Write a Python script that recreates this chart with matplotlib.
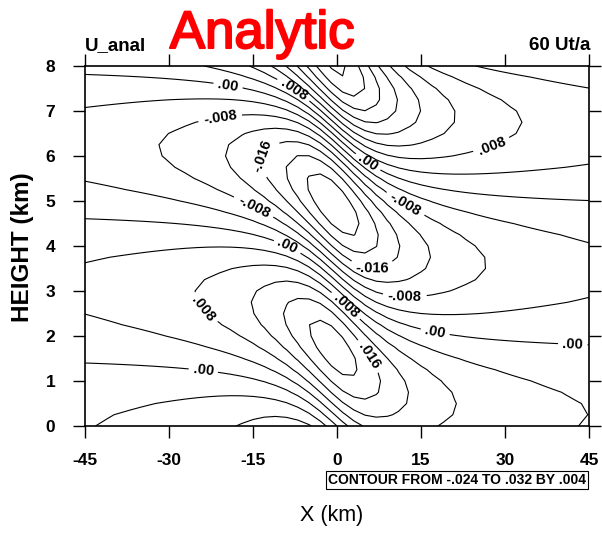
import numpy as np
import matplotlib
matplotlib.use("Agg")
import matplotlib.pyplot as plt
import matplotlib.patheffects as pe

# Model grid (km)
x_km = np.arange(-45.0, 45.01, 2.0)
z_km = np.arange(0.0, 8.001, 0.25)

# Witch-of-Agnesi mountain-wave parameters
half_width = 9.0         # a (km)
vert_wavenumber = 0.98   # l (1/km)
amplitude = 0.02         # U*h*l
scale_height = 8.0       # density scale height (km)

levels = np.round(np.arange(-0.024, 0.0321, 0.004), 4)
label_levels = [-0.016, -0.008, 0.0, 0.008, 0.016]

x_ticks = [-45, -30, -15, 0, 15, 30, 45]
z_ticks = [0, 1, 2, 3, 4, 5, 6, 7, 8]

# label anchor points (x km, z km)
label_spots = [(-19.5, 7.53), (-7.9, 7.44), (-20.9, 6.87), (-13.4, 6.0),
               (-15.0, 4.84), (-8.9, 3.98), (-24.1, 2.58), (-23.9, 1.2),
               (5.4, 5.84), (27.7, 6.2), (12.1, 4.91), (6.25, 3.47),
               (12.1, 2.84), (1.4, 2.65), (17.5, 2.07), (5.4, 1.53),
               (42.1, 1.8)]

X, Z = np.meshgrid(x_km, z_km)
theta = vert_wavenumber * Z
U = (amplitude * np.exp(Z / (2 * scale_height)) * half_width
     * (half_width * np.sin(theta) + X * np.cos(theta)) / (X**2 + half_width**2))

W, H = 602, 533
fig = plt.figure(figsize=(W / 100, H / 100), dpi=100)
ax = fig.add_axes([85 / W, 1 - 426 / H, (589 - 85) / W, (426 - 66) / H])

plain_levels = [lv for lv in levels if not any(abs(lv - t) < 1e-9 for t in label_levels)]
ax.contour(X, Z, U, levels=plain_levels, colors="black", linewidths=0.8,
           negative_linestyles="solid")
cs = ax.contour(X, Z, U, levels=label_levels, colors="black", linewidths=0.8,
                negative_linestyles="solid")


def fmt(v):
    if abs(v) < 1e-9:
        return ".00"
    s = f"{v:.3f}".rstrip("0")
    return s.replace("0.", ".", 1)


ax.clabel(cs, fmt=fmt, inline=True, inline_spacing=3, fontsize=10.5,
          manual=label_spots)
for t in cs.labelTexts:
    t.set_fontweight("bold")
    t.set_family("Liberation Sans")

ax.set_xlim(-45, 45)
ax.set_ylim(0, 8)
ax.set_xticks(x_ticks)
ax.set_yticks(z_ticks)
ax.set_xticklabels([str(v) for v in x_ticks])
ax.set_yticklabels([str(v) for v in z_ticks])
ax.tick_params(direction="out", length=8.5, width=1.0, top=True, right=True,
               labelsize=12.5)
ax.tick_params(axis="x", pad=11)
ax.tick_params(axis="y", pad=13)
for lab in ax.get_xticklabels() + ax.get_yticklabels():
    lab.set_fontweight("bold")
    lab.set_family("Liberation Sans")
for sp in ax.spines.values():
    sp.set_linewidth(1.2)

fig.text(332 / W, 1 - 516 / H, "X (km)", fontsize=15.5, family="Liberation Sans",
         ha="center", va="center")
fig.text(22 / W, 1 - 247 / H, "HEIGHT (km)", fontsize=17.5, family="Liberation Sans",
         fontweight="bold", rotation=90, ha="center", va="center")

fig.text(85 / W, 1 - 50 / H, "U_anal", fontsize=13.5, family="Liberation Sans",
         fontweight="bold", ha="left", va="baseline")
fig.text(590 / W, 1 - 50 / H, "60 Ut/a", fontsize=13.5, family="Liberation Sans",
         fontweight="bold", ha="right", va="baseline")
fig.text(262 / W, 1 - 48 / H, "Analytic", fontsize=38, family="Liberation Sans",
         color="red", ha="center", va="baseline",
         path_effects=[pe.Stroke(linewidth=1.5, foreground="red"), pe.Normal()])

fig.text(586 / W, 1 - 480 / H, "CONTOUR FROM -.024 TO .032 BY .004",
         fontsize=10, family="Liberation Sans", fontweight="bold",
         ha="right", va="center",
         bbox=dict(boxstyle="square,pad=0.15", fc="white", ec="black", lw=0.8))

fig.savefig("out.png", dpi=100)
